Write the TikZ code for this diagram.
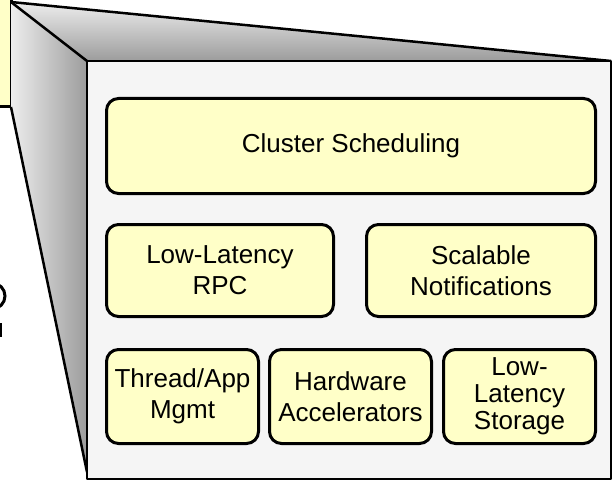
\documentclass[tikz,border=0pt]{standalone}
\usepackage{fontspec}
\setmainfont{Liberation Sans}
\definecolor{boxyellow}{HTML}{FFFFC8}
\definecolor{facegray}{HTML}{F5F5F5}
\definecolor{sidelight}{HTML}{EDEDED}
\definecolor{sidedark}{HTML}{9C9C9C}
\begin{document}
\begin{tikzpicture}[x=1pt,y=-1pt,
    blk/.style={draw,line width=3pt,rounded corners=12pt,fill=boxyellow,
      align=center,inner sep=0pt,font=\fontsize{26}{31}\selectfont},
    edge/.style={line width=2.5pt,line join=round}]
    \useasboundingbox (0,0) rectangle (615,481);
    \coordinate (apex) at (11,2);
    \coordinate (foot) at (11,107);
    \coordinate (ftl) at (87,61);
    \coordinate (ftr) at (611,61);
    \coordinate (fbl) at (87,479);
    \coordinate (fbr) at (611,479);
    \coordinate (fside) at (87,472);
    % box cut off at the left
    \fill[boxyellow] (-5,-5) rectangle (foot);
    \draw[line width=3pt] (11,-5) -- (foot) -- (-5,107);
    % sides of the zoom
    \shade[top color=sidelight,bottom color=sidedark] (apex) -- (ftr) -- (ftl) -- cycle;
    \shade[left color=sidelight,right color=sidedark] (apex) -- (ftl) -- (fside) -- (foot) -- cycle;
    \draw[edge] (apex) -- (ftr);
    \draw[edge] (apex) -- (ftl);
    \draw[edge] (foot) -- (fside);
    \draw[edge,fill=facegray] (ftl) rectangle (fbr);
    % bits of text cut off at the left
    \draw[line width=3pt] (-8,283) arc[start angle=-90,end angle=90,radius=13];
    \draw[line width=2.5pt] (1,323) -- (1,337);
    % blocks
    \node[blk,minimum width=489pt,minimum height=95pt] (sched) at (351,146) {Cluster Scheduling};
    \node[blk,minimum width=227pt,minimum height=92pt] (rpc) at (220,270.5) {Low-Latency\\RPC};
    \node[blk,minimum width=229pt,minimum height=92pt] (notif) at (481,270.5) {Scalable\\Notifications};
    \node[blk,minimum width=152pt,minimum height=94pt] (thread) at (182.5,396.5) {Thread/App\\Mgmt};
    \node[blk,minimum width=162pt,minimum height=94pt] (accel) at (350.5,396.5) {Hardware\\Accelerators};
    \node[blk,minimum width=152pt,minimum height=94pt,font=\fontsize{26}{27}\selectfont] (storage) at (519.5,396.5) {Low-\\Latency\\Storage};
\end{tikzpicture}
\end{document}
